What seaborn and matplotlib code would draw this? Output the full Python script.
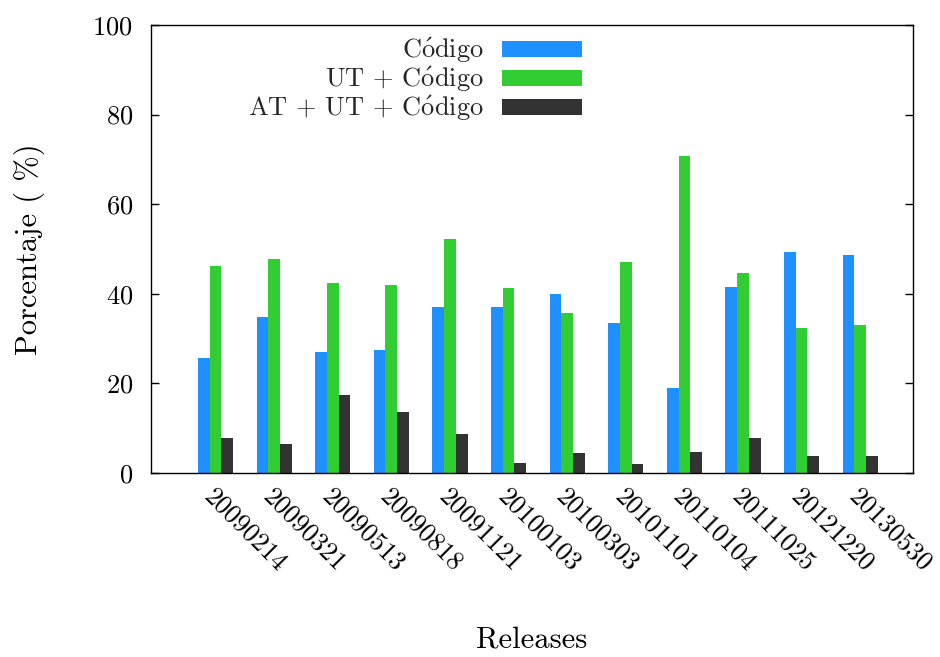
import matplotlib
matplotlib.use("Agg")
import matplotlib.pyplot as plt
import matplotlib.transforms as mtransforms
from matplotlib.patches import Patch
import pandas as pd
import seaborn as sns

releases = ["20090214", "20090321", "20090513", "20090818", "20091121", "20100103",
            "20100303", "20101101", "20110104", "20111025", "20121220", "20130530"]
codigo = [25.7, 34.8, 27.0, 27.5, 37.1, 37.1, 40.0, 33.5, 19.0, 41.5, 49.3, 48.7]
ut_codigo = [46.2, 47.8, 42.4, 42.0, 52.2, 41.3, 35.7, 47.1, 70.8, 44.6, 32.4, 33.0]
at_ut_codigo = [7.8, 6.5, 17.4, 13.6, 8.7, 2.2, 4.5, 2.0, 4.7, 7.8, 3.8, 3.8]
series_names = ["Código", "UT + Código", "AT + UT + Código"]
# accented vowel typeset through mathtext so it stays in Computer Modern
series_labels = [s.replace("ó", r"$\acute{\mathrm{o}}$") for s in series_names]
colors = ["#1e90ff", "#32cd32", "#333333"]

df = pd.DataFrame({
    "release": releases * 3,
    "serie": [series_names[0]] * 12 + [series_names[1]] * 12 + [series_names[2]] * 12,
    "valor": codigo + ut_codigo + at_ut_codigo,
})

sns.set_theme(style="white")
plt.rcParams["font.family"] = ["cmr10", "DejaVu Serif"]
plt.rcParams["axes.formatter.use_mathtext"] = True
plt.rcParams["mathtext.fontset"] = "cm"

fig = plt.figure(figsize=(9.4, 6.57), dpi=100)
ax = fig.add_axes([151 / 940, 1 - 473 / 657, 762 / 940, 448 / 657])

sns.barplot(data=df, x="release", y="valor", hue="serie", hue_order=series_names,
            palette=colors, saturation=1, width=0.6, gap=0, linewidth=0,
            errorbar=None, ax=ax, legend=False)

ax.set_xlim(-1.1, 11.9)
ax.set_ylim(0, 100)
ax.set_yticks([0, 20, 40, 60, 80, 100])

for side in ["left", "right", "top", "bottom"]:
    ax.spines[side].set_visible(True)
    ax.spines[side].set_color("black")
    ax.spines[side].set_linewidth(1.0)

ax.tick_params(axis="y", which="both", direction="in", length=6, width=1,
               color="black", left=True, right=True, labelsize=19, pad=13,
               labelcolor="black")
ax.tick_params(axis="x", length=0, labelsize=19, pad=18, labelcolor="black")

shift = mtransforms.ScaledTranslation(-0.12, 0, fig.dpi_scale_trans)
for lab in ax.get_xticklabels():
    lab.set_rotation(-45)
    lab.set_rotation_mode("anchor")
    lab.set_ha("left")
    lab.set_va("baseline")
    lab.set_transform(lab.get_transform() + shift)

ax.set_xlabel("Releases", fontsize=22, color="black")
ax.set_ylabel("Porcentaje ( %)", fontsize=22, color="black")
ax.xaxis.set_label_coords(0.5, -0.372)
ax.xaxis.label.set_va("center")
ax.yaxis.set_label_coords(-0.160, 0.5)
ax.yaxis.label.set_va("center")

handles = [Patch(facecolor=c, edgecolor="none") for c in colors]
ax.legend(handles, series_labels, loc="upper right", bbox_to_anchor=(0.565, 0.976),
          frameon=False, markerfirst=False, fontsize=19, handlelength=3.0,
          handleheight=0.57, handletextpad=0.72, labelspacing=-0.01,
          borderpad=0, borderaxespad=0)

fig.savefig("out.png", dpi=100, facecolor="white")
